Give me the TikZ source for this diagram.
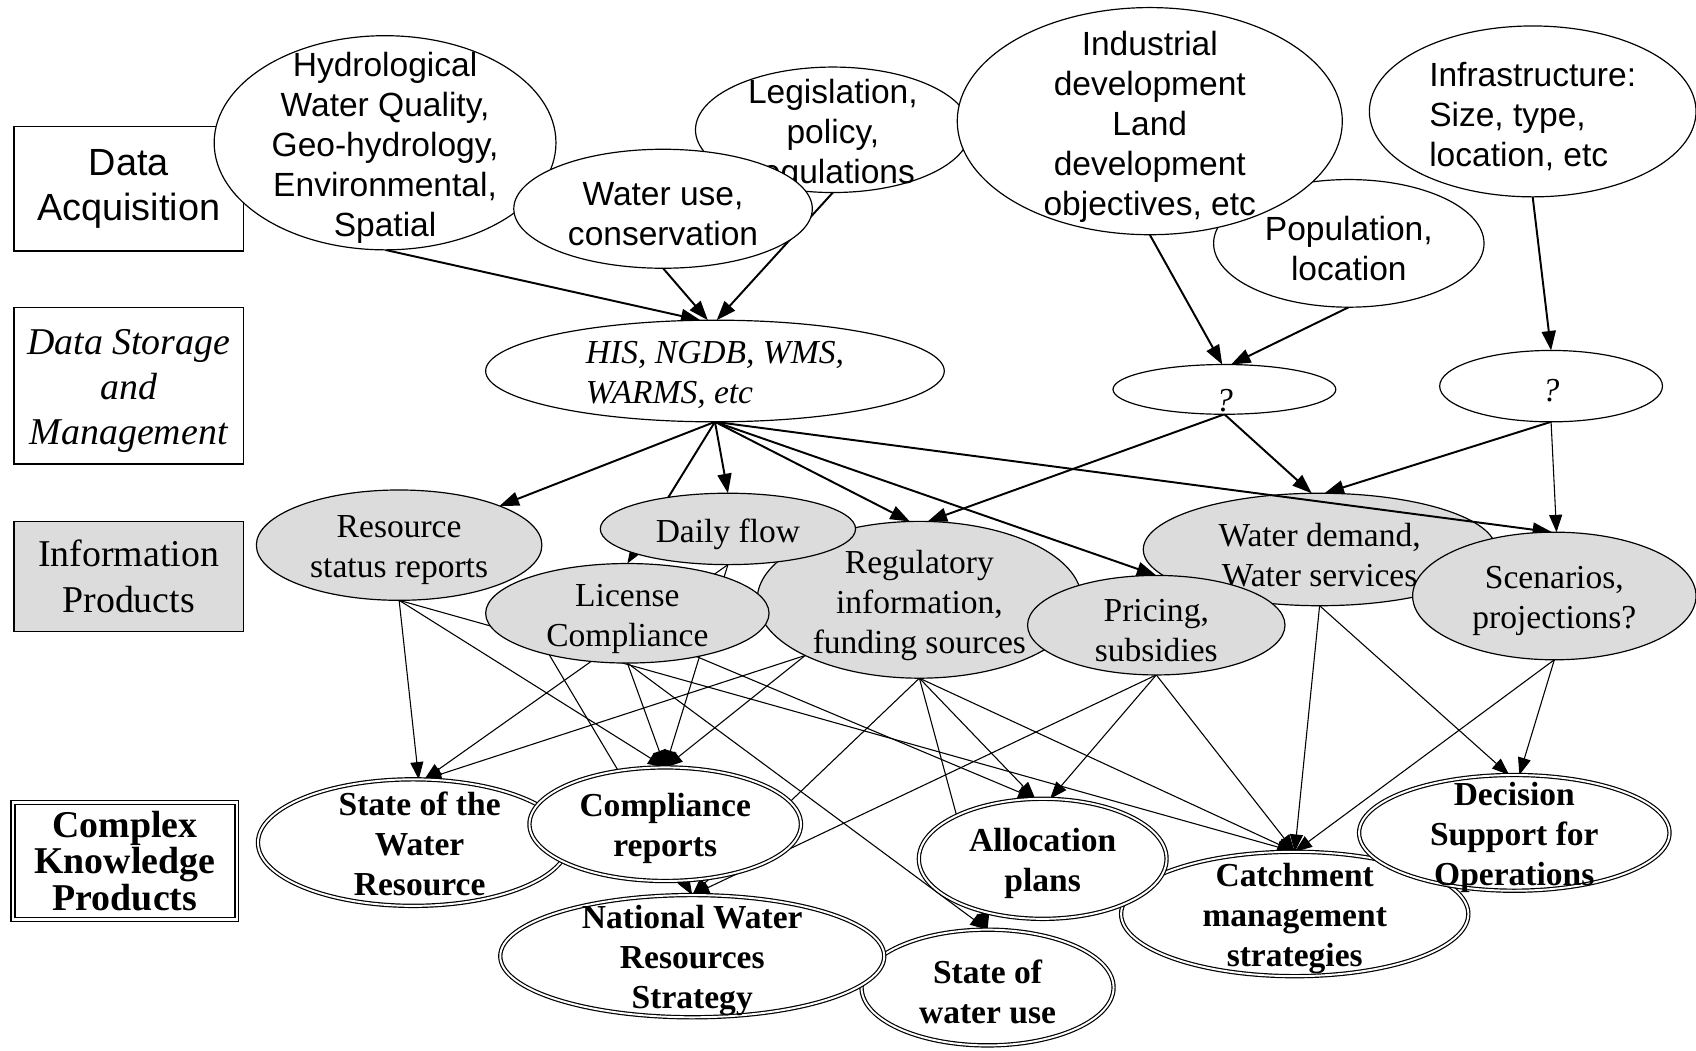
\documentclass[tikz,border=0pt]{standalone}
\usepackage{fontspec}
\setmainfont{Liberation Serif}
\newfontfamily\sansf{Liberation Sans}
\usetikzlibrary{shapes.geometric,arrows.meta}
\pgfdeclarelayer{bg}
\pgfdeclarelayer{low}
\pgfdeclarelayer{mid}
\pgfsetlayers{bg,low,mid,main}
\definecolor{ipgray}{RGB}{220,220,220}
\begin{document}
\begin{tikzpicture}[x=1pt,y=-1pt,
  ell/.style={ellipse, draw, line width=1.1pt, fill=white, inner sep=0pt, outer sep=0pt},
  gell/.style={ell, fill=ipgray},
  kell/.style={ellipse, draw, fill=white, line width=1.1pt, double, double distance=1.8pt, inner sep=0pt, outer sep=0pt},
  sz/.style 2 args={minimum width=#1pt, minimum height=#2pt},
  tsans/.style={font=\sansf\fontsize{31}{37}\selectfont, align=center, inner sep=0pt, yshift=-5pt},
  tser/.style={font=\fontsize{31}{37}\selectfont, align=center, inner sep=0pt, yshift=-5pt},
  tital/.style={font=\itshape\fontsize{31}{37}\selectfont, align=left, inner sep=0pt, yshift=-4pt},
  tbold/.style={font=\bfseries\fontsize{31}{37}\selectfont, align=center, inner sep=0pt, yshift=-4pt},
  up/.style={line width=1.8pt, -{Triangle[length=18pt,width=13pt]}},
  lo/.style={line width=1pt, -{Triangle[length=16pt,width=12pt]}},
  box/.style={draw, line width=1.1pt, rectangle, inner sep=0pt, align=center}
]
\useasboundingbox (0,0) rectangle (1568,971);
\begin{pgfonlayer}{bg}
\fill[white] (0,0) rectangle (1568,971);
\end{pgfonlayer}

% ---- left category boxes
\node[box, sz={212}{115}, font=\sansf\fontsize{35}{42}\selectfont] (da) at (119,174.5) {Data\\Acquisition};
\node[box, sz={212}{145}] (dsm) at (119,356.5) {};
\node[align=center, inner sep=0pt, font=\itshape\fontsize{35}{42}\selectfont, yshift=-5pt] (dsm-t) at (dsm) {Data Storage\\and\\Management};
\node[box, fill=ipgray, sz={212}{102}, font=\fontsize{35}{42}\selectfont] (ip) at (119,533) {Information\\Products};
\node[box, double, double distance=2.5pt, sz={207}{108}, font=\bfseries\fontsize{35}{33.5}\selectfont] (ckp) at (115.5,796) {Complex\\Knowledge\\Products};

% ---- data acquisition
\node[ell, sz={316}{198}] (hydro) at (356,132) {};
\node[tsans] (hydro-t) at (hydro) {Hydrological\\Water Quality,\\Geo-hydrology,\\Environmental,\\Spatial};
\node[ell, sz={254}{116}] (legis) at (770,120) {};
\node[tsans] (legis-t) at (legis) {Legislation,\\policy,\\regulations};
\node[ell, sz={276}{110}] (wateruse) at (613,193) {};
\node[tsans] (wateruse-t) at (wateruse) {Water use,\\conservation};
\node[ell, sz={250}{118}] (pop) at (1247,225) {};
\node[tsans] (pop-t) at (pop) {Population,\\location};
\node[ell, sz={356}{210}] (indus) at (1063,112) {};
\node[tsans] (indus-t) at (indus) {Industrial\\development\\Land\\development\\objectives, etc};
\node[ell, sz={302}{158}] (infra) at (1417,103) {};
\node[tsans, align=left] (infra-t) at (infra) {Infrastructure:\\Size, type,\\location, etc};

% ---- storage
\node[ell, sz={424}{94}] (his) at (661,343) {};
\node[tital] (his-t) at (his) {HIS, NGDB, WMS,\\WARMS, etc};
\node[ell, sz={206}{46}] (q1) at (1132,360) {};
\node[tital, yshift=-6pt] (q1-t) at (q1) {?};
\node[ell, sz={206}{66}] (q2) at (1434,357) {};
\node[tital] (q2-t) at (q2) {?};

% ---- information products
\begin{pgfonlayer}{low}
\node[gell, sz={326}{104}] (wd) at (1220,508) {};
\node[tser] (wd-t) at (wd) {Water demand,\\Water services};
\end{pgfonlayer}
\node[gell, sz={300}{145}] (reg) at (850,554.5) {};
\node[tser] (reg-t) at (reg) {Regulatory\\information,\\funding sources};
\node[gell, sz={264}{102}] (resource) at (369,504) {};
\node[tser] (resource-t) at (resource) {Resource\\status reports};
\node[gell, sz={236}{66}] (daily) at (673,489) {};
\node[tser] (daily-t) at (daily) {Daily flow};
\node[gell, sz={262}{92}] (license) at (580,567) {};
\node[tser] (license-t) at (license) {License\\Compliance};
\node[gell, sz={238}{92}] (pricing) at (1069,578) {};
\node[tser] (pricing-t) at (pricing) {Pricing,\\subsidies};
\node[gell, sz={262}{118}] (scen) at (1437,551) {};
\node[tser] (scen-t) at (scen) {Scenarios,\\projections?};

% ---- complex knowledge products
\node[kell, sz={321}{115}] (catch) at (1197,845) {};
\node[tbold] (catch-t) at (catch) {Catchment\\management\\strategies};
\node[kell, sz={229}{111}] (alloc) at (964,794) {};
\node[tbold] (alloc-t) at (alloc) {Allocation\\plans};
\node[kell, sz={287}{107}] (decis) at (1400,770) {};
\node[tbold] (decis-t) at (decis) {Decision\\Support for\\Operations};
\node[kell, sz={287}{117}] (state) at (382,779) {};
\node[tbold, xshift=6pt, yshift=3pt] (state-t) at (state) {State of the\\Water\\Resource};
\node[kell, sz={251}{105}] (compl) at (615,762) {};
\node[tbold] (compl-t) at (compl) {Compliance\\reports};
\node[kell, sz={233}{107}] (wuse) at (913,913) {};
\node[tbold] (wuse-t) at (wuse) {State of\\water use};
\node[kell, sz={355}{113}] (national) at (640,884) {};
\node[tbold] (national-t) at (national) {National Water\\Resources\\Strategy};

% ---- connectors
\begin{pgfonlayer}{bg}
\draw[up] (hydro.south) -- (his.106);
\draw[up] (wateruse.south) -- (his.98);
\draw[up] (legis.south) -- (his.88);
\draw[up] (indus.south) -- (q1.95);
\draw[up] (pop.south) -- (q1.75);
\draw[up] (infra.south) -- (q2.north);
\draw[up] (his.south) -- (resource);
\draw[up] (his.south) -- (license.north);
\draw[up] (his.south) -- (daily.north);
\draw[up] (his.south) -- (reg.97);
\draw[up] (his.south) -- (pricing.north);
\draw[up] (q1.south) -- (reg.84);
\draw[up] (q1.south) -- (wd.98);
\draw[up] (q2.south) -- (wd.85);
\draw[lo] (q2.south) -- (scen.88);
\draw[lo] (resource.south) -- (state.85);
\draw[lo] (resource.south) -- (compl.north);
\draw[lo] (resource.south) -- (catch.north);
\draw[lo] (daily.south) -- (state.80);
\draw[lo] (daily.south) -- (compl.north);
\draw[lo] (license.208) -- (national.north);
\draw[lo] (license.south) -- (compl.north);
\draw[lo] (license.south) -- (wuse.north);
\draw[lo] (license.328) -- (alloc.97);
\draw[lo] (reg.206) -- (state.80);
\draw[lo] (reg.206) -- (compl.north);
\draw[lo] (reg.south) -- (national.north);
\draw[lo] (reg.south) -- (wuse.north);
\draw[lo] (reg.south) -- (alloc.97);
\draw[lo] (reg.south) -- (catch.north);
\draw[lo] (pricing.south) -- (national.north);
\draw[lo] (pricing.south) -- (alloc.83);
\draw[lo] (pricing.south) -- (catch.north);
\draw[lo] (wd.south) -- (catch.north);
\draw[lo] (wd.south) -- (decis.95);
\draw[lo] (scen.south) -- (catch.north);
\draw[lo] (scen.south) -- (decis.85);
\end{pgfonlayer}
\begin{pgfonlayer}{mid}
\draw[up] (his.south) -- (scen.92);
\end{pgfonlayer}
\end{tikzpicture}
\end{document}
